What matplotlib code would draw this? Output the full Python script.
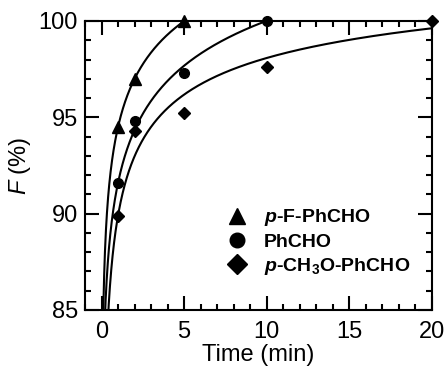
import numpy as np
import matplotlib.pyplot as plt

plt.rcParams['font.family'] = ['Liberation Sans', 'DejaVu Sans']
plt.rcParams['mathtext.fontset'] = 'custom'
plt.rcParams['mathtext.rm'] = 'Liberation Sans'
plt.rcParams['mathtext.it'] = 'Liberation Sans:italic'
plt.rcParams['mathtext.bf'] = 'Liberation Sans:bold'
plt.rcParams['mathtext.bfit'] = 'Liberation Sans:italic:bold'

# measured points
t_f = [1, 2, 5]
F_f = [94.5, 97.0, 100.0]
t_h = [1, 2, 5, 10]
F_h = [91.6, 94.8, 97.3, 100.0]
t_m = [1, 2, 5, 10, 20]
F_m = [89.9, 94.3, 95.2, 97.6, 100.0]

labels = [r'$\mathbfit{p}$-F-PhCHO', 'PhCHO', r'$\mathbfit{p}$-CH$_\mathbf{3}$O-PhCHO']
markers = ['^', 'o', 'D']
msizes = [8, 7, 6.5]

# fitted curves F = a - c * t^(-n), parameters
fit_a = [125.8, 132.5, 106.3]
fit_c = [31.3, 40.9, 16.4]
fit_n = [0.12, 0.10, 0.30]

fig = plt.figure(figsize=(4.44, 3.73), dpi=100)
ax = fig.add_axes([0.1914, 0.169, 0.7816, 0.7747])

tt = np.linspace(0.02, 20, 2000)
for a, c, n in zip(fit_a, fit_c, fit_n):
    ax.plot(tt, a - c * tt ** (-n), color='black', lw=1.5)

data = [(t_f, F_f), (t_h, F_h), (t_m, F_m)]
for (x, y), mk, ms, lab in zip(data, markers, msizes, labels):
    ax.plot(x, y, ls='none', marker=mk, ms=ms, color='black', label=lab, clip_on=False)

ax.set_xlim(-1, 20)
ax.set_ylim(85, 100)
ax.set_xticks([0, 5, 10, 15, 20])
ax.set_xticks(np.arange(-1, 21, 1), minor=True)
ax.set_yticks([85, 90, 95, 100])
ax.set_yticks(np.arange(85, 101, 1), minor=True)
ax.tick_params(which='both', direction='in', top=True, right=True, width=1.5, labelsize=17)
ax.tick_params(which='major', length=10)
ax.tick_params(which='minor', length=4.5)
ax.tick_params(axis='x', pad=8)
ax.tick_params(axis='y', pad=5)
for s in ax.spines.values():
    s.set_linewidth(1.5)

ax.set_xlabel('Time (min)', fontsize=17, labelpad=1)
ax.set_ylabel(r'$\mathit{F}$ (%)', fontsize=17, labelpad=4)

leg = ax.legend(loc='upper left', bbox_to_anchor=(0.41, 0.355), frameon=False,
                prop={'weight': 'bold', 'size': 14}, markerscale=1.5,
                handlelength=1.0, handletextpad=0.9, labelspacing=0.25,
                borderaxespad=0, borderpad=0)

fig.savefig('out.png', dpi=100)
